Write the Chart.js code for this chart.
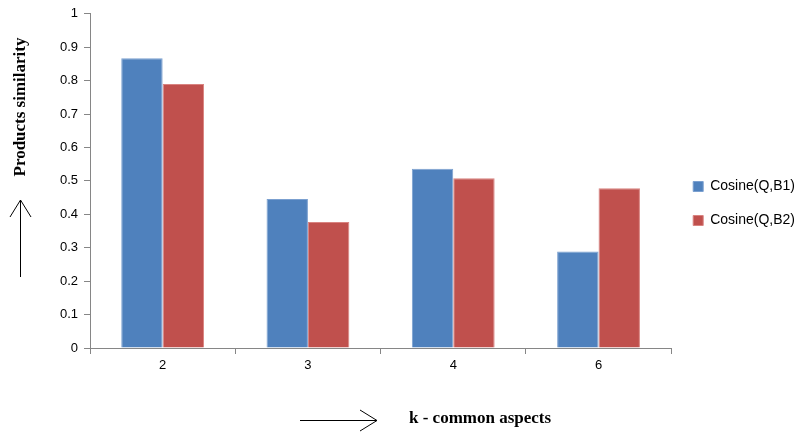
<!DOCTYPE html>
<html>
<head>
<meta charset="utf-8">
<script src="https://cdn.jsdelivr.net/npm/chart.js@4.4.1/dist/chart.umd.min.js"></script>
<style>
  html, body { margin: 0; padding: 0; background: #fff; }
  #wrap { width: 807px; height: 433px; }
</style>
</head>
<body>
<div id="wrap"><canvas id="simChart" width="807" height="433"></canvas></div>
<script>
// data
const categories = ['2', '3', '4', '6'];
const cosineB1 = [0.867, 0.446, 0.536, 0.289];
const cosineB2 = [0.790, 0.377, 0.508, 0.478];
const seriesNames = ['Cosine(Q,B1)', 'Cosine(Q,B2)'];

const xTitle = 'k - common aspects';
const yTitle = 'Products similarity';

// axis titles + hand drawn arrows, like in the original sheet
const arrowTitles = {
  id: 'arrowTitles',
  afterLayout(chart) {
    // legend sits a bit higher than the centre in the original
    chart.legend.bottom -= 38;
    chart.legend.left += 2;
  },
  afterDraw(chart) {
    const c = chart.ctx;
    c.save();
    c.strokeStyle = '#000';
    c.lineWidth = 1;
    c.fillStyle = '#000';
    c.font = 'bold 17px "Liberation Serif", serif';

    // y title, rotated
    c.save();
    c.translate(21, 107);
    c.rotate(-Math.PI / 2);
    c.textAlign = 'center';
    c.textBaseline = 'middle';
    c.fillText(yTitle, 0, 0);
    c.restore();

    // up arrow
    c.beginPath();
    c.moveTo(20.5, 277); c.lineTo(20.5, 200);
    c.moveTo(10, 217); c.lineTo(20.5, 200); c.lineTo(31, 217);
    c.stroke();

    // x title
    c.textAlign = 'left';
    c.textBaseline = 'middle';
    c.fillText(xTitle, 409, 419);

    // right arrow
    c.beginPath();
    c.moveTo(300, 420.5); c.lineTo(377, 420.5);
    c.moveTo(360, 410); c.lineTo(377, 420.5); c.lineTo(360, 431);
    c.stroke();
    c.restore();
  }
};

const ctx = document.getElementById('simChart').getContext('2d');
const simChart = new Chart(ctx, {
  type: 'bar',
  data: {
    labels: categories,
    datasets: [{
      label: seriesNames[0],
      data: cosineB1,
      backgroundColor: '#4F81BD',
      borderColor: '#7BA0D0',
      borderWidth: 1,
      categoryPercentage: 0.57,
      barPercentage: 1
    }, {
      label: seriesNames[1],
      data: cosineB2,
      backgroundColor: '#C0504D',
      borderColor: '#D98380',
      borderWidth: 1,
      categoryPercentage: 0.57,
      barPercentage: 1
    }]
  },
  options: {
    responsive: false,
    animation: false,
    layout: { padding: { top: 12, right: 4, left: 0, bottom: 0 } },
    plugins: {
      title: { display: false },
      tooltip: { enabled: false },
      legend: {
        position: 'right',
        labels: {
          boxWidth: 10,
          boxHeight: 10,
          padding: 20,
          color: '#000',
          font: { family: '"Liberation Sans", Arial, sans-serif', size: 14 }
        }
      }
    },
    scales: {
      x: {
        grid: { display: true, drawOnChartArea: false, tickLength: 6, color: '#868686' },
        border: { color: '#868686' },
        ticks: { color: '#000', padding: 4, font: { family: '"Liberation Sans", Arial, sans-serif', size: 13 } },
        afterFit(s) { s.height = 85; }
      },
      y: {
        min: 0,
        max: 1,
        ticks: {
          stepSize: 0.1,
          color: '#000',
          padding: 6,
          font: { family: '"Liberation Sans", Arial, sans-serif', size: 13 },
          callback: v => Math.round(v * 10) / 10
        },
        grid: { display: true, drawOnChartArea: false, tickLength: 6, color: '#868686' },
        border: { color: '#868686' },
        afterFit(s) { s.width = 90; }
      }
    }
  },
  plugins: [arrowTitles]
});
</script>
</body>
</html>
